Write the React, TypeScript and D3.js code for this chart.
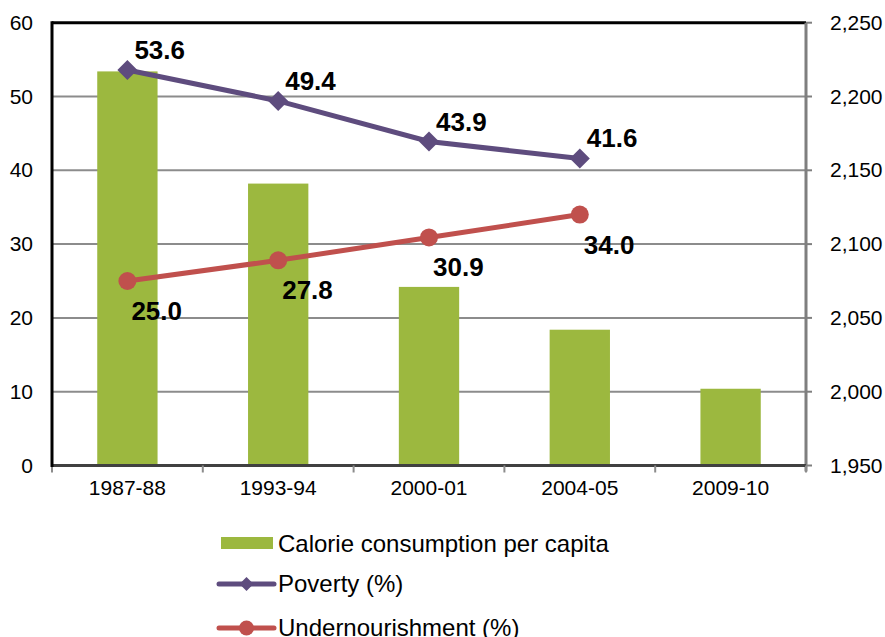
import React from "react";
import * as d3 from "d3";

const categories = ["1987-88", "1993-94", "2000-01", "2004-05", "2009-10"];
const calorie = [2217, 2141, 2071, 2042, 2002];
const poverty: (number | null)[] = [53.6, 49.4, 43.9, 41.6, null];
const undernourishment: (number | null)[] = [25.0, 27.8, 30.9, 34.0, null];
const leftTicks = [0, 10, 20, 30, 40, 50, 60];
const rightTicks = [1950, 2000, 2050, 2100, 2150, 2200, 2250];

const W = 885, H = 637;
const L = 52, R = 806, T = 22.7, B = 465.5;
const GREEN = "#9CB83F", PURPLE = "#5E4C7E", RED = "#C0504D";
const FONT = "Arial, 'Liberation Sans', sans-serif";

export default function App() {
  const x = d3.scaleBand<string>().domain(categories).range([L, R]).padding(0);
  const yL = d3.scaleLinear().domain([0, 60]).range([B, T]);
  const yR = d3.scaleLinear().domain([1950, 2250]).range([B, T]);
  const bw = x.bandwidth() * 0.4;
  const cx = (c: string) => (x(c) as number) + x.bandwidth() / 2;
  const fmt = d3.format(",");

  const line = d3
    .line<[string, number | null]>()
    .defined((d) => d[1] != null)
    .x((d) => cx(d[0]))
    .y((d) => yL(d[1] as number));

  const povPts = categories.map((c, i) => [c, poverty[i]] as [string, number | null]);
  const undPts = categories.map((c, i) => [c, undernourishment[i]] as [string, number | null]);

  const diamond = (px: number, py: number, s: number) =>
    `M${px},${py - s}L${px + s},${py}L${px},${py + s}L${px - s},${py}Z`;

  return (
    <svg width={W} height={H} style={{ position: "absolute", left: 0, top: 0, background: "#fff" }} fontFamily={FONT}>
      {/* gridlines */}
      {leftTicks.filter((t) => t > 0 && t < 60).map((t) => (
        <line key={t} x1={L} x2={R} y1={yL(t)} y2={yL(t)} stroke="#8c8c8c" strokeWidth={2} />
      ))}
      {/* bars */}
      {categories.map((c, i) => (
        <rect key={c} x={cx(c) - bw / 2} y={yR(calorie[i])} width={bw} height={B - yR(calorie[i])} fill={GREEN} />
      ))}
      {/* top border */}
      <line x1={L} x2={R} y1={T} y2={T} stroke="#000" strokeWidth={3} />
      {/* right axis */}
      <line x1={R} x2={R} y1={T} y2={B + 6} stroke="#7f7f7f" strokeWidth={3} />
      {rightTicks.map((t) => (
        <line key={t} x1={R} x2={R + 6} y1={yR(t)} y2={yR(t)} stroke="#7f7f7f" strokeWidth={2} />
      ))}
      {rightTicks.map((t) => (
        <text key={t} x={830} y={yR(t) + 7} fontSize={21} fill="#000">{fmt(t)}</text>
      ))}
      {/* bottom axis */}
      <line x1={L} x2={R} y1={B} y2={B} stroke="#404040" strokeWidth={3} />
      {d3.range(categories.length + 1).map((i) => {
        const xx = L + i * x.bandwidth();
        return <line key={i} x1={xx} x2={xx} y1={B} y2={B + 7} stroke="#8c8c8c" strokeWidth={2} />;
      })}
      {categories.map((c) => (
        <text key={c} x={cx(c)} y={495} fontSize={21} textAnchor="middle" fill="#000">{c}</text>
      ))}
      {/* left axis */}
      <line x1={L} x2={L} y1={T - 1.5} y2={B + 1.5} stroke="#000" strokeWidth={3} />
      {leftTicks.map((t) => (
        <text key={t} x={33} y={yL(t) + 7} fontSize={21} textAnchor="end" fill="#000">{t}</text>
      ))}
      {/* poverty line */}
      <path d={line(povPts) || ""} fill="none" stroke={PURPLE} strokeWidth={5} />
      {povPts.filter((d) => d[1] != null).map((d) => (
        <path key={d[0]} d={diamond(cx(d[0]), yL(d[1] as number), 10)} fill={PURPLE} />
      ))}
      {/* undernourishment line */}
      <path d={line(undPts) || ""} fill="none" stroke={RED} strokeWidth={5} />
      {undPts.filter((d) => d[1] != null).map((d) => (
        <circle key={d[0]} cx={cx(d[0])} cy={yL(d[1] as number)} r={9} fill={RED} />
      ))}
      {/* data labels */}
      {povPts.filter((d) => d[1] != null).map((d) => (
        <text key={d[0]} x={cx(d[0]) + 7} y={yL(d[1] as number) - 11} fontSize={26} fontWeight="bold" fill="#000">
          {(d[1] as number).toFixed(1)}
        </text>
      ))}
      {undPts.filter((d) => d[1] != null).map((d) => (
        <text key={d[0]} x={cx(d[0]) + 4} y={yL(d[1] as number) + 39} fontSize={26} fontWeight="bold" fill="#000">
          {(d[1] as number).toFixed(1)}
        </text>
      ))}
      {/* legend */}
      <rect x={221} y={537} width={52} height={12} fill={GREEN} />
      <text x={278} y={552} fontSize={24} fill="#000">Calorie consumption per capita</text>
      <line x1={219} x2={274} y1={584} y2={584} stroke={PURPLE} strokeWidth={5} strokeLinecap="round" />
      <path d={diamond(246.5, 584, 7)} fill={PURPLE} />
      <text x={278} y={592} fontSize={24} fill="#000">Poverty (%)</text>
      <line x1={219} x2={274} y1={628} y2={628} stroke={RED} strokeWidth={5} strokeLinecap="round" />
      <circle cx={246.5} cy={628} r={7.5} fill={RED} />
      <text x={278} y={636} fontSize={24} fill="#000">Undernourishment (%)</text>
    </svg>
  );
}
